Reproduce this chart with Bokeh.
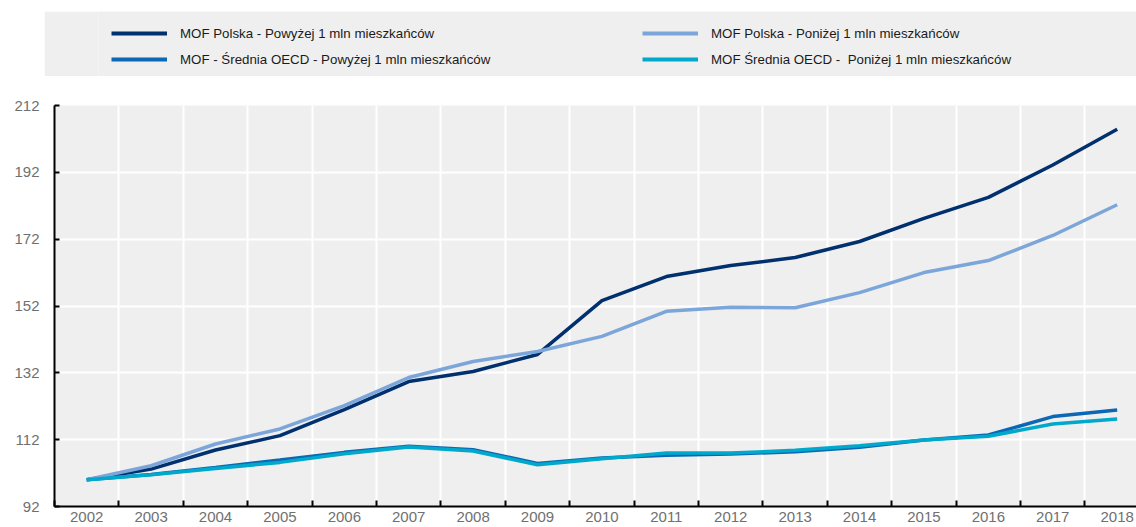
from bokeh.plotting import figure
from bokeh.models import Legend, LegendItem, FixedTicker, Range1d
from bokeh.layouts import column
from bokeh.embed import file_html
from bokeh.resources import INLINE

years = list(range(2002, 2019))
pl_above = [100, 103.2, 108.9, 113.2, 121.0, 129.4, 132.4, 137.5, 153.6, 160.8, 164.1, 166.5, 171.3, 178.2, 184.5, 194.2, 204.9]
pl_below = [100, 104.2, 110.7, 115.2, 122.2, 130.6, 135.4, 138.4, 142.9, 150.4, 151.6, 151.5, 156.0, 162.0, 165.6, 173.1, 182.3]
oecd_above = [100, 101.6, 103.7, 105.9, 108.2, 110.0, 109.0, 104.9, 106.5, 107.3, 107.7, 108.4, 109.7, 111.9, 113.4, 118.9, 120.9]
oecd_below = [100, 101.5, 103.4, 105.2, 107.8, 109.8, 108.6, 104.5, 106.3, 108.0, 108.0, 108.8, 110.2, 111.9, 113.0, 116.7, 118.2]
y_ticks = [92, 112, 132, 152, 172, 192, 212]

names = ["MOF Polska - Powyżej 1 mln mieszkańców",
         "MOF - Średnia OECD - Powyżej 1 mln mieszkańców",
         "MOF Polska - Poniżej 1 mln mieszkańców",
         "MOF Średnia OECD -  Poniżej 1 mln mieszkańców"]
colors = ["#00306e", "#0a68b4", "#7ca6da", "#00a9cc"]
series = [pl_above, oecd_above, pl_below, oecd_below]

FONT = "Liberation Sans"
BG = "#efefef"

# ---- legend band ----
top = figure(width=1092, height=65, x_range=Range1d(0, 1), y_range=Range1d(0, 1),
             toolbar_location=None, output_backend="svg",
             x_axis_location=None, y_axis_location=None, min_border=0)
top.margin = (11, 0, 0, 44)
top.grid.visible = False
top.outline_line_color = None
top.background_fill_color = BG
top.border_fill_color = BG
dummies = [top.line([-10, -9], [-10, -9], line_color=c, line_width=4) for c in colors]

def mk_legend(items, x):
    lg = Legend(items=items, location=(x, 4), orientation="vertical",
                padding=0, spacing=0, margin=0, glyph_width=56, glyph_height=26,
                label_height=26, label_standoff=13,
                label_text_font=FONT, label_text_font_size="13.3px",
                label_text_color="#1a1a1a", background_fill_alpha=0,
                border_line_color=None)
    return lg

lg1 = mk_legend([LegendItem(label=names[0], renderers=[dummies[0]]),
                 LegendItem(label=names[1], renderers=[dummies[1]])], 13)
lg2 = mk_legend([LegendItem(label=names[2], renderers=[dummies[2]]),
                 LegendItem(label=names[3], renderers=[dummies[3]])], 544)
top.add_layout(lg1)
top.add_layout(lg2)

# ---- main chart ----
p = figure(width=1136, height=451, x_range=Range1d(2001.5, 2018.3), y_range=Range1d(92, 212),
           toolbar_location=None, output_backend="svg",
           min_border_left=54, min_border_right=0, min_border_top=29, min_border_bottom=21)
p.margin = (0, 0, 0, 0)
p.background_fill_color = BG
p.border_fill_color = "white"
p.outline_line_color = None

for s, c in zip(series, colors):
    p.line(years, s, line_color=c, line_width=3.5)

xt = FixedTicker(ticks=years, minor_ticks=[y - 0.5 for y in years] + [2018.5])
p.xaxis.ticker = xt
p.xgrid.ticker = xt
p.xaxis.major_tick_in = 0
p.xaxis.major_tick_out = 0
p.xaxis.minor_tick_in = 6
p.xaxis.minor_tick_out = 0
p.xaxis.minor_tick_line_width = 2
p.xaxis.minor_tick_line_color = "black"
p.xgrid.grid_line_color = None
p.xgrid.minor_grid_line_color = "white"
p.xgrid.minor_grid_line_width = 2

yt = FixedTicker(ticks=y_ticks, minor_ticks=[])
p.yaxis.ticker = yt
p.ygrid.ticker = yt
p.yaxis.major_tick_in = 5
p.yaxis.major_tick_out = 0
p.yaxis.major_tick_line_width = 2
p.yaxis.minor_tick_line_color = None
p.ygrid.grid_line_color = "white"
p.ygrid.grid_line_width = 2

for ax in (p.xaxis, p.yaxis):
    ax.axis_line_width = 2
    ax.axis_line_color = "black"
    ax.major_tick_line_color = "black"
    ax.major_label_text_font = FONT
    ax.major_label_text_font_size = "15px"
    ax.major_label_text_color = "#707070"
p.xaxis.major_label_standoff = 5
p.yaxis.major_label_standoff = 15

layout = column(top, p, spacing=0)
open("out.html", "w").write(file_html(layout, INLINE))
